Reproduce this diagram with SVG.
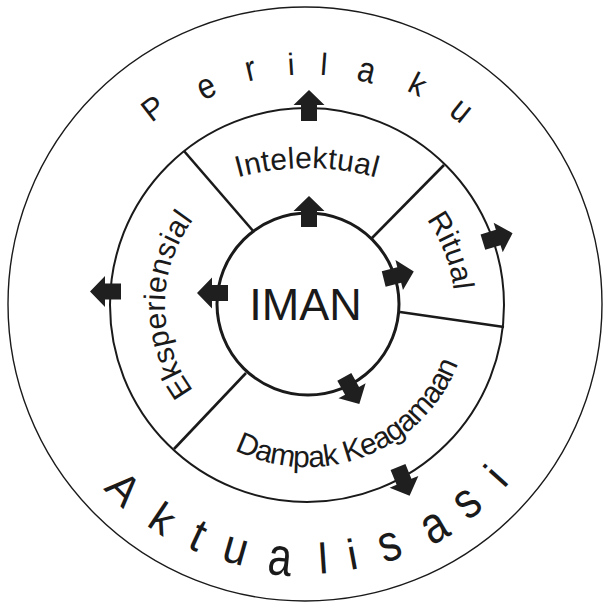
<svg xmlns="http://www.w3.org/2000/svg" xmlns:xlink="http://www.w3.org/1999/xlink" width="604" height="610" viewBox="0 0 604 610">
  <style>
    .ring { fill: none; stroke: #1a1a1a; }
    .div { stroke: #1a1a1a; stroke-width: 2.6; stroke-linecap: butt; }
    .big { font-family: "Liberation Sans", Arial, sans-serif; fill: #1a1a1a; text-anchor: middle; }
    .lab { font-family: "Liberation Sans", Arial, sans-serif; fill: #1a1a1a; font-size: 30px; }
    .arr { fill: #1f1f1f; }
  </style>
  <defs>
    <path id="arrow" d="M0,-8 H16 V-15.5 L31,0 L16,15.5 V8 H0 Z"/>
    <path id="p-intel" d="M 50 425 A 257 257 0 0 1 564 425"/>
    <path id="p-ritual" d="M 367.1 171.7 A 147 147 0 0 1 441.9 365.6"/>
    <path id="p-eksp" d="M 215.7 413.8 A 142 142 0 0 1 215.7 196.2"/>
    <path id="p-dampak" d="M 166.7 386 A 162 162 0 0 0 465.5 271.3"/>
  </defs>
  <rect width="604" height="610" fill="#ffffff"/>

  <g id="outer-ring">
    <circle class="ring" cx="305" cy="304" r="297" stroke-width="1.4"/>
    <g id="label-perilaku" class="big" font-size="31">
      <g transform="translate(159.7,116.7) rotate(-37.8)"><text x="0" y="0">P</text></g>
      <g transform="translate(210.8,97.2) rotate(-24.7) scale(1,1.15)"><text x="0" y="0">e</text></g>
      <g transform="translate(253.1,80.3) rotate(-13.3) scale(1,1.15)"><text x="0" y="0">r</text></g>
      <g transform="translate(291.7,75) rotate(-3.6)"><text x="0" y="0">i</text></g>
      <g transform="translate(323.1,75) rotate(4.3)"><text x="0" y="0">l</text></g>
      <g transform="translate(363.8,81.7) rotate(14.5) scale(1,1.15)"><text x="0" y="0">a</text></g>
      <g transform="translate(413,93.8) rotate(27)"><text x="0" y="0">k</text></g>
      <g transform="translate(454.4,119) rotate(38.6) scale(1,1.15)"><text x="0" y="0">u</text></g>
    </g>
    <g id="label-aktualisasi" class="big" font-size="43">
      <g transform="translate(113.1,499) rotate(44.8)"><text x="0" y="0">A</text></g>
      <g transform="translate(154.4,530.9) rotate(33.9)"><text x="0" y="0">k</text></g>
      <g transform="translate(191.6,549.6) rotate(25.1) scale(1,1.1)"><text x="0" y="0">t</text></g>
      <g transform="translate(231.8,563) rotate(16) scale(1,1.1)"><text x="0" y="0">u</text></g>
      <g transform="translate(278.5,574.9) rotate(5.8) scale(1,1.25)"><text x="0" y="0">a</text></g>
      <g transform="translate(324,573.5) rotate(-3.8)"><text x="0" y="0">l</text></g>
      <g transform="translate(355,569.2) rotate(-10.5)"><text x="0" y="0">i</text></g>
      <g transform="translate(394.4,559.8) rotate(-19.1) scale(1,1.2)"><text x="0" y="0">s</text></g>
      <g transform="translate(442,540.1) rotate(-30.1) scale(1,1.2)"><text x="0" y="0">a</text></g>
      <g transform="translate(476.5,514.5) rotate(-39.1) scale(1,1.2)"><text x="0" y="0">s</text></g>
      <g transform="translate(506.9,485.7) rotate(-48)"><text x="0" y="0">i</text></g>
    </g>
  </g>

  <g id="middle-ring">
    <circle class="ring" cx="307" cy="305" r="197" stroke-width="2"/>
  </g>

  <g id="sector-intelektual">
    <text class="lab" font-size="31" letter-spacing="0.3"><textPath href="#p-intel" xlink:href="#p-intel" startOffset="50%" text-anchor="middle">Intelektual</textPath></text>
  </g>
  <g id="sector-ritual">
    <text class="lab" font-size="31"><textPath href="#p-ritual" xlink:href="#p-ritual" startOffset="50%" text-anchor="middle">Ritual</textPath></text>
  </g>
  <g id="sector-eksperiensial">
    <text class="lab" font-size="31" letter-spacing="0.4"><textPath href="#p-eksp" xlink:href="#p-eksp" startOffset="50%" text-anchor="middle">Eksperiensial</textPath></text>
  </g>
  <g id="sector-dampak">
    <text class="lab" font-size="33" letter-spacing="-0.8"><textPath href="#p-dampak" xlink:href="#p-dampak" startOffset="50%" text-anchor="middle">Dampak Keagamaan</textPath></text>
  </g>

  <g id="iman">
    <circle class="ring" cx="308" cy="304" r="91" stroke-width="3"/>
    <text class="big" x="305.5" y="320" font-size="45">IMAN</text>
  </g>

  <g id="connectors">
    <line class="div" x1="254" y1="232" x2="184" y2="151"/>
    <line class="div" x1="372" y1="238" x2="444" y2="165"/>
    <line class="div" x1="400" y1="312" x2="504" y2="327"/>
    <line class="div" x1="246" y1="373" x2="174" y2="449"/>
    <use class="arr" href="#arrow" xlink:href="#arrow" transform="translate(309,121) rotate(-90)"/>
    <use class="arr" href="#arrow" xlink:href="#arrow" transform="translate(309,227) rotate(-90)"/>
    <use class="arr" href="#arrow" xlink:href="#arrow" transform="translate(121,291.5) rotate(180)"/>
    <use class="arr" href="#arrow" xlink:href="#arrow" transform="translate(228,293) rotate(180)"/>
    <use class="arr" href="#arrow" xlink:href="#arrow" transform="translate(482.9,242.2) rotate(-17)"/>
    <use class="arr" href="#arrow" xlink:href="#arrow" transform="translate(383.7,278.9) rotate(-14)"/>
    <use class="arr" href="#arrow" xlink:href="#arrow" transform="translate(344.3,376.8) rotate(61)"/>
    <use class="arr" href="#arrow" xlink:href="#arrow" transform="translate(398,467) rotate(68)"/>
  </g>
</svg>
